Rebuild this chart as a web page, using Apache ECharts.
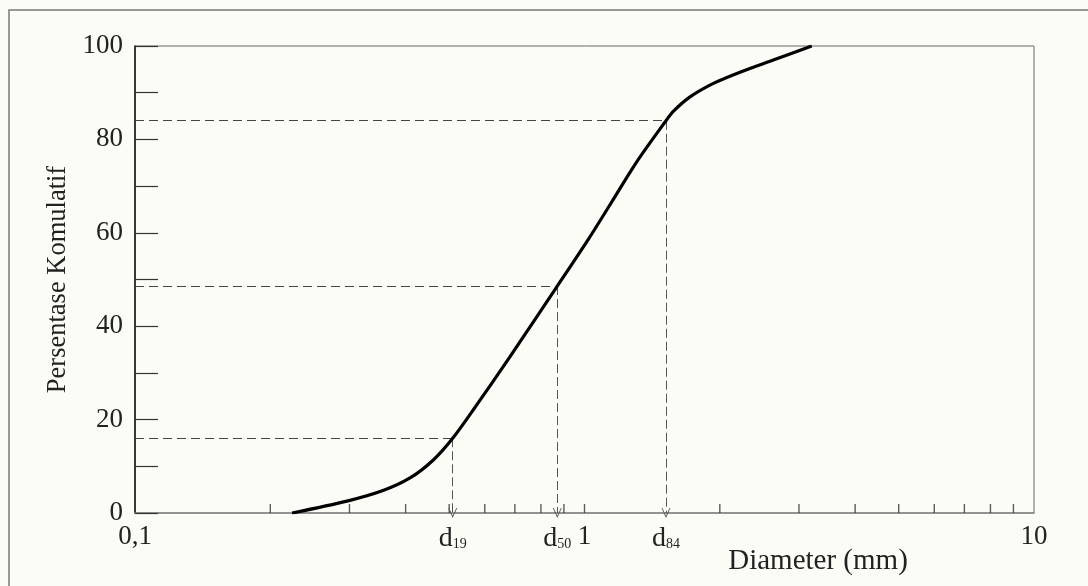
<!DOCTYPE html>
<html>
<head>
<meta charset="utf-8">
<script src="https://cdn.jsdelivr.net/npm/echarts@6/dist/echarts.min.js"></script>
<style>
  html, body { margin: 0; padding: 0; background: #fcfcf7; }
  #chart { width: 1088px; height: 586px; }
</style>
</head>
<body>
<div id="chart"></div>
<script>
// Grain-size distribution (cumulative percent vs diameter, log scale)
const diameters = [0.2236, 0.2978, 0.3562, 0.4091, 0.4603, 0.5091, 0.5706, 0.6829, 0.8699, 1.0197, 1.1495, 1.3068, 1.518, 1.576, 1.717, 1.935, 2.218, 2.630, 3.203];
const cumulative = [0, 2.6, 4.8, 7.5, 11.3, 16, 22.6, 33.5, 48.6, 58.6, 66.6, 75.2, 84, 86.0, 89.1, 92.0, 94.4, 97.0, 100];

// characteristic diameters
const dNames = ['19', '50', '84'];
const dDiam = [0.5091, 0.8699, 1.518];
const dPct = [16, 48.6, 84];

// x-axis small ticks (log scale)
const xTickValues = [0.2, 0.3, 0.4, 0.5, 0.6, 0.7, 0.8, 0.9, 1, 2, 3, 4, 5, 6, 7, 8, 9];

const SERIF = '"Liberation Serif", "DejaVu Serif", serif';

const chart = echarts.init(document.getElementById('chart'), null, { renderer: 'canvas' });

const markData = [];
dDiam.forEach((d, i) => {
  markData.push([
    { coord: [0.1, dPct[i]], symbol: 'none', label: { show: false }, lineStyle: { type: [9, 5], color: '#444', width: 1 } },
    { coord: [d, dPct[i]], symbol: 'none' }
  ]);
  markData.push([
    { coord: [d, dPct[i]], symbol: 'none',
      lineStyle: { type: [9, 4], color: '#555', width: 1 },
      label: {
        show: true, position: 'end', distance: 12,
        formatter: '{d|d}{s|' + dNames[i] + '}',
        rich: {
          d: { fontFamily: SERIF, fontSize: 28, color: '#222' },
          s: { fontFamily: SERIF, fontSize: 14, color: '#222', padding: [10, 0, 0, 0] }
        }
      }
    },
    { coord: [d, 0], symbol: 'path://M5,0L10,10L9,10L5,2.2L1,10L0,10Z', symbolSize: [9, 10] }
  ]);
});

const option = {
  backgroundColor: '#fcfcf7',
  animation: false,
  grid: {
    left: 135, right: 54, top: 46, bottom: 73,
    show: true, borderColor: '#666', borderWidth: 1, backgroundColor: 'transparent'
  },
  xAxis: {
    type: 'log', logBase: 10, min: 0.1, max: 10,
    axisLine: { show: true, lineStyle: { color: '#888', width: 1.5 } },
    axisTick: { show: false },
    splitLine: { show: false },
    minorTick: { show: false },
    axisLabel: {
      fontFamily: SERIF, fontSize: 27, color: '#222', margin: 10,
      formatter: v => (v < 0.5 ? '0,1' : String(Math.round(v)))
    }
  },
  yAxis: {
    type: 'value', min: 0, max: 100, interval: 10,
    name: 'Persentase Komulatif', nameLocation: 'middle', nameGap: 61,
    nameTextStyle: { fontFamily: SERIF, fontSize: 26.5, color: '#222' },
    axisLine: { show: true, lineStyle: { color: '#111', width: 1.5 } },
    axisTick: { show: true, inside: true, length: 23, lineStyle: { color: '#333', width: 1.2 } },
    splitLine: { show: false },
    axisLabel: {
      fontFamily: SERIF, fontSize: 27, color: '#222', margin: 12,
      formatter: v => (v % 20 === 0 ? String(v) : '')
    }
  },
  series: [
    {
      type: 'scatter',
      data: xTickValues.map(v => [v, 0]),
      symbol: 'rect', symbolSize: [1.4, 9], symbolOffset: [0, -4.5],
      itemStyle: { color: '#333' },
      silent: true, z: 1
    },
    {
      type: 'line',
      data: diameters.map((d, i) => [d, cumulative[i]]),
      smooth: 0.3,
      showSymbol: false,
      lineStyle: { color: '#000', width: 3.2 },
      silent: true, z: 5,
      markLine: {
        silent: true, animation: false,
        symbol: ['none', 'none'],
        lineStyle: { color: '#444', width: 1 },
        label: { show: false },
        emphasis: { disabled: true },
        data: markData
      }
    }
  ],
  graphic: [
    {
      type: 'polyline', silent: true,
      shape: { points: [[9, 586], [9, 10], [1088, 10]] },
      style: { stroke: '#777', lineWidth: 1.5, fill: null }
    },
    {
      type: 'text', x: 818, y: 561, silent: true,
      style: { text: 'Diameter (mm)', align: 'center', verticalAlign: 'middle', fontFamily: SERIF, fontSize: 29, fill: '#222' }
    }
  ]
};

chart.setOption(option);
</script>
</body>
</html>
